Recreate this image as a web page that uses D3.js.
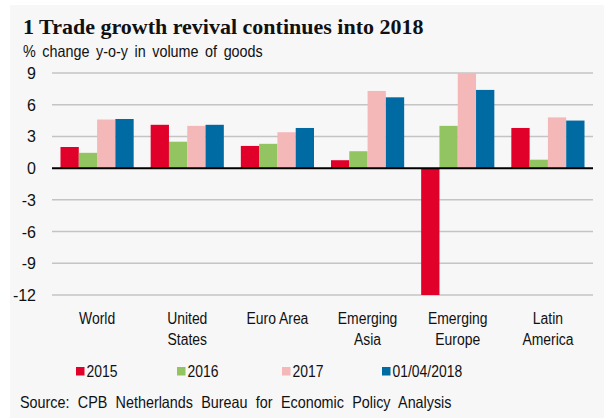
<!DOCTYPE html>
<html>
<head>
<meta charset="utf-8">
<script src="https://cdn.jsdelivr.net/npm/d3@7"></script>
<style>
  html, body { margin: 0; padding: 0; background: #fff; }
  svg { display: block; }
</style>
</head>
<body>
<svg id="chart"></svg>
<script>
/* ---------- data ---------- */
const categories = [["World"], ["United", "States"], ["Euro Area"], ["Emerging", "Asia"], ["Emerging", "Europe"], ["Latin", "America"]];
const seriesNames = ["2015", "2016", "2017", "01/04/2018"];
const values2015 = [2.0, 4.1, 2.1, 0.75, -12, 3.8];
const values2016 = [1.45, 2.5, 2.3, 1.6, 4.0, 0.8];
const values2017 = [4.6, 4.0, 3.4, 7.3, 9.0, 4.8];
const values2018 = [4.65, 4.1, 3.8, 6.7, 7.4, 4.5];
const yTicks = [9, 6, 3, 0, -3, -6, -9, -12];

/* ---------- setup ---------- */
const width = 604, height = 418;
const svg = d3.select("#chart").attr("width", width).attr("height", height);

const colors = d3.scaleOrdinal().domain(seriesNames)
  .range(["#e0002a", "#92c462", "#f5b8b8", "#006ba3"]);

const sans = "'Liberation Sans', Arial, sans-serif";
const squeeze = 0.87; // fake a narrow face

// places a text at (x,y) squeezed horizontally
function narrow(sel, x, y) {
  return sel.attr("transform", `translate(${x},${y}) scale(${squeeze},1)`);
}

svg.append("rect")
  .attr("x", 10).attr("y", 5).attr("width", width - 10).attr("height", height - 5)
  .attr("fill", "#f7f7f7");

svg.append("text")
  .attr("x", 23).attr("y", 34)
  .attr("font-family", "'Liberation Serif', 'Times New Roman', serif")
  .attr("font-size", 22).attr("font-weight", "bold").attr("fill", "#111")
  .text("1 Trade growth revival continues into 2018");

svg.append("text")
  .call(narrow, 23, 57)
  .attr("font-family", sans).attr("font-size", 16.5).attr("fill", "#111")
  .attr("word-spacing", 3)
  .text("% change y-o-y in volume of goods");

const catKeys = categories.map(c => c.join(" "));
const rows = catKeys.map((k, i) => ({
  key: k,
  vals: [values2015[i], values2016[i], values2017[i], values2018[i]]
}));

const x0 = d3.scaleBand().domain(catKeys).range([52, 593]);
const x1 = d3.scaleBand().domain(seriesNames).range([8.5, x0.bandwidth() - 8.5]);
const y  = d3.scaleLinear().domain([-12, 9]).range([295, 73]);

/* gridlines + tick labels */
const grid = svg.append("g");
grid.selectAll("line").data(yTicks.filter(t => t !== 0)).enter().append("line")
  .attr("x1", 52).attr("x2", 593)
  .attr("y1", d => y(d)).attr("y2", d => y(d))
  .attr("stroke", "#c4c4c4").attr("stroke-width", 1.5);

grid.selectAll("text").data(yTicks).enter().append("text")
  .attr("x", 36).attr("y", d => y(d) + 6)
  .attr("text-anchor", "end")
  .attr("font-family", sans).attr("font-size", 16).attr("fill", "#111")
  .text(d => d);

/* bars */
const groups = svg.append("g").selectAll("g").data(rows).enter().append("g")
  .attr("transform", d => `translate(${x0(d.key)},0)`);

groups.selectAll("rect")
  .data(d => d.vals.map((v, i) => ({ s: seriesNames[i], v })))
  .enter().append("rect")
    .attr("x", d => x1(d.s))
    .attr("width", x1.bandwidth())
    .attr("y", d => y(Math.max(0, d.v)))
    .attr("height", d => Math.abs(y(d.v) - y(0)))
    .attr("fill", d => colors(d.s));

/* zero line */
svg.append("line")
  .attr("x1", 52).attr("x2", 593)
  .attr("y1", y(0)).attr("y2", y(0))
  .attr("stroke", "#000").attr("stroke-width", 2);

/* category labels */
const catG = svg.append("g").selectAll("text").data(categories).enter().append("text")
  .each(function(d, i) { narrow(d3.select(this), x0(catKeys[i]) + x0.bandwidth() / 2, 324); })
  .attr("text-anchor", "middle")
  .attr("font-family", sans).attr("font-size", 16).attr("fill", "#111");
catG.selectAll("tspan").data(d => d).enter().append("tspan")
  .attr("x", 0)
  .attr("dy", (d, i) => i === 0 ? 0 : 21)
  .text(d => d);

/* legend */
const legendX = [76, 177, 282, 382];
const legend = svg.append("g").selectAll("g").data(seriesNames).enter().append("g")
  .attr("transform", (d, i) => `translate(${legendX[i]},377)`);
legend.append("rect")
  .attr("x", 0).attr("y", -10).attr("width", 8.5).attr("height", 8.5)
  .attr("fill", d => colors(d));
legend.append("text")
  .call(narrow, 10.5, 0)
  .attr("font-family", sans).attr("font-size", 16).attr("fill", "#111")
  .text(d => d);

svg.append("text")
  .call(narrow, 20, 408)
  .attr("font-family", sans).attr("font-size", 16.5).attr("fill", "#111")
  .attr("word-spacing", 5)
  .text("Source: CPB Netherlands Bureau for Economic Policy Analysis");
</script>
</body>
</html>
